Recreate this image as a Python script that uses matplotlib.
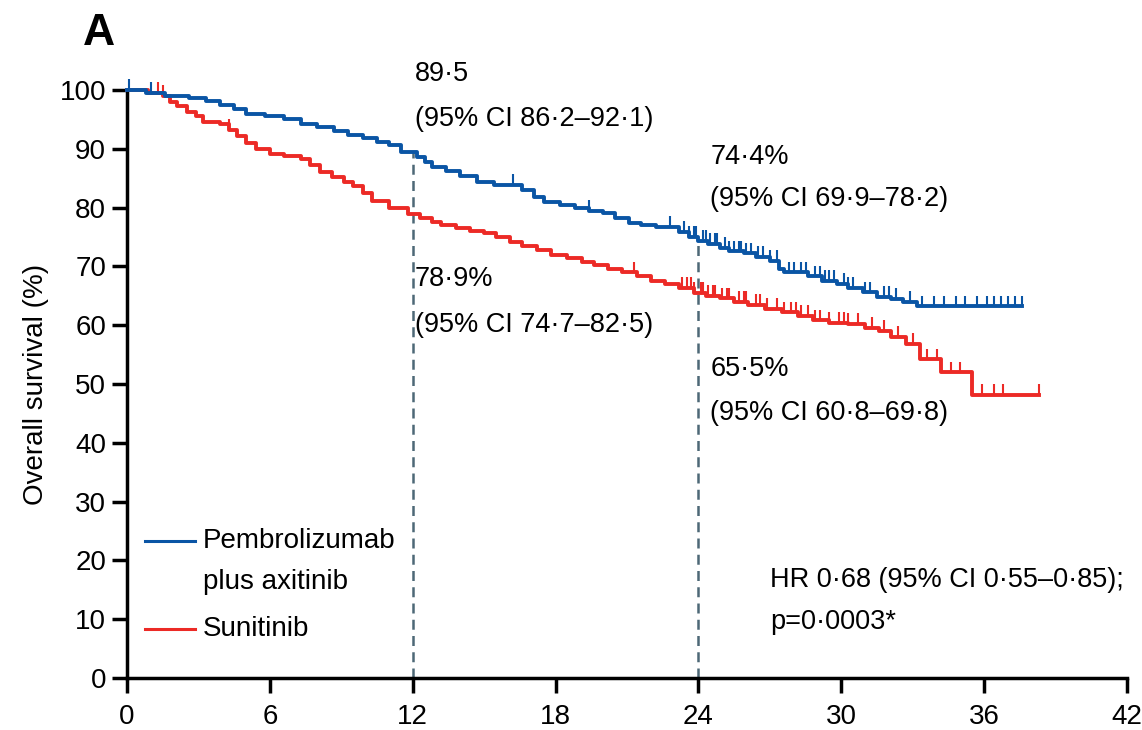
import numpy as np
import matplotlib
matplotlib.use("Agg")
import matplotlib.pyplot as plt

plt.rcParams["font.family"] = ["Liberation Sans", "DejaVu Sans"]

BLUE = "#0a55a5"
RED = "#ec2a26"
DASH = "#4d6876"

# pembrolizumab plus axitinib: step times (months) and survival (%) after each step
pa_time = [0, 0.8, 1.6, 2.6, 3.3, 3.9, 4.5, 5.0, 5.8, 6.6, 7.3, 8.0, 8.7, 9.3, 9.9,
           10.5, 11.0, 11.5, 12.2, 12.5, 12.8, 13.4, 14.0, 14.7, 15.4, 16.6, 17.1,
           17.5, 18.2, 18.8, 19.4, 20.0, 20.5, 21.1, 21.6, 22.2, 23.2, 23.6, 24.0,
           24.4, 24.9, 25.3, 25.9, 26.4, 27.0, 27.4, 27.6, 28.6, 29.2, 29.8, 30.3,
           30.9, 31.5, 32.1, 32.6, 33.2, 37.6]
pa_surv = [100, 99.5, 99.0, 98.7, 98.2, 97.5, 96.8, 96.0, 95.5, 95.0, 94.3, 93.7,
           93.0, 92.4, 91.8, 91.2, 90.6, 89.5, 88.6, 87.7, 86.9, 86.2, 85.4, 84.4,
           83.9, 83.0, 81.8, 80.9, 80.5, 80.0, 79.5, 79.0, 78.2, 77.4, 77.0, 76.7,
           75.9, 75.0, 74.4, 73.8, 73.2, 72.6, 72.2, 71.6, 71.0, 69.5, 69.0, 68.3,
           67.6, 67.0, 66.4, 65.6, 64.8, 64.5, 64.0, 63.2, 63.2]
pa_censor = [0.1, 1.0, 16.2, 19.4, 22.8, 23.4, 23.6, 23.8, 23.9, 24.2, 24.3, 24.5,
             24.7, 24.8, 25.1, 25.3, 25.5, 25.7, 25.8, 26.0, 26.2, 26.5, 26.7, 27.0,
             27.3, 27.8, 28.0, 28.3, 28.5, 28.9, 29.1, 29.3, 29.5, 29.7, 30.1, 30.3,
             30.5, 31.0, 31.2, 31.8, 32.0, 32.3, 32.9, 33.4, 33.9, 34.3, 34.8, 35.2,
             35.7, 36.1, 36.4, 36.7, 37.0, 37.3, 37.6]

# sunitinib
su_time = [0, 0.9, 1.5, 1.8, 2.1, 2.5, 2.9, 3.2, 3.9, 4.3, 4.6, 5.0, 5.4, 6.0, 6.6,
           7.3, 7.7, 8.1, 8.6, 9.1, 9.5, 9.9, 10.3, 11.0, 11.8, 12.3, 12.8, 13.2,
           13.8, 14.4, 15.0, 15.5, 16.1, 16.6, 17.2, 17.8, 18.5, 19.1, 19.6, 20.2,
           20.8, 21.4, 22.0, 22.6, 23.2, 23.8, 24.3, 24.9, 25.5, 26.1, 26.8, 27.5,
           28.2, 28.8, 29.5, 30.3, 31.0, 31.6, 32.1, 32.7, 33.3, 34.2, 35.5, 38.3]
su_surv = [100, 99.5, 99.0, 98.0, 97.2, 96.2, 95.5, 94.6, 94.2, 93.2, 92.2, 91.0,
           90.0, 89.2, 88.8, 88.2, 87.2, 86.0, 85.2, 84.4, 83.6, 82.5, 81.2, 80.0,
           78.9, 78.2, 77.6, 77.0, 76.5, 76.0, 75.6, 75.0, 74.2, 73.5, 72.8, 72.0,
           71.4, 70.8, 70.3, 69.6, 69.0, 68.3, 67.6, 67.0, 66.4, 65.5, 65.0, 64.6,
           64.0, 63.5, 62.8, 62.2, 61.6, 60.8, 60.4, 60.2, 59.6, 59.0, 58.0, 56.8,
           54.2, 52.0, 48.2, 48.2]
su_censor = [1.3, 1.5, 4.3, 21.3, 23.3, 23.5, 23.7, 23.8, 24.1, 24.2, 24.4, 24.6,
             24.7, 25.0, 25.2, 25.3, 25.7, 25.9, 26.0, 26.4, 26.6, 26.9, 27.3, 27.6,
             27.9, 28.1, 28.3, 28.6, 28.9, 29.1, 29.5, 29.9, 30.1, 30.3, 30.7, 31.3,
             31.8, 32.4, 33.0, 33.6, 34.0, 34.6, 35.0, 35.9, 36.4, 36.8, 38.3]

landmarks = [12, 24]
x_ticks = [0, 6, 12, 18, 24, 30, 36, 42]
y_ticks = list(range(0, 101, 10))


def step_value(times, surv, t):
    idx = np.searchsorted(times, t, side="right") - 1
    return np.asarray(surv)[idx]


fig = plt.figure(figsize=(11.42, 7.3), dpi=100)
ax = fig.add_axes([127 / 1142, 52 / 730, 1000 / 1142, 588 / 730])

for times, surv, cens, col in ((su_time, su_surv, su_censor, RED),
                               (pa_time, pa_surv, pa_censor, BLUE)):
    ax.step(times, surv, where="post", color=col, lw=2.8, clip_on=False, zorder=3)
    cy = step_value(times, surv, cens)
    ax.vlines(cens, cy, cy + 1.8, color=col, lw=1.5, clip_on=False, zorder=3)

# landmark guides up to the upper curve
for t in landmarks:
    ax.vlines(t, 0, step_value(pa_time, pa_surv, t), color=DASH, lw=1.8,
              linestyles=(0, (4, 2.5)), zorder=2)

fs = 19.5
ax.text(12.1, 102.7, "89·5", fontsize=fs, va="center", clip_on=False)
ax.text(12.1, 95.1, "(95% CI 86·2–92·1)", fontsize=fs, va="center", clip_on=False)
ax.text(24.5, 88.6, "74·4%", fontsize=fs, va="center")
ax.text(24.5, 81.4, "(95% CI 69·9–78·2)", fontsize=fs, va="center")
ax.text(12.1, 67.8, "78·9%", fontsize=fs, va="center")
ax.text(12.1, 60.1, "(95% CI 74·7–82·5)", fontsize=fs, va="center")
ax.text(24.5, 52.5, "65·5%", fontsize=fs, va="center")
ax.text(24.5, 45.1, "(95% CI 60·8–69·8)", fontsize=fs, va="center")
ax.text(27.0, 16.7, "HR 0·68 (95% CI 0·55–0·85);", fontsize=fs, va="center")
ax.text(27.0, 9.5, "p=0·0003*", fontsize=fs, va="center")

# legend
ax.plot([0.75, 2.85], [23.3, 23.3], color=BLUE, lw=2.2)
ax.plot([0.75, 2.85], [8.3, 8.3], color=RED, lw=2.2)
ax.text(3.2, 23.3, "Pembrolizumab", fontsize=20, va="center")
ax.text(3.2, 16.3, "plus axitinib", fontsize=20, va="center")
ax.text(3.2, 8.3, "Sunitinib", fontsize=20, va="center")

ax.set_xlim(0, 42)
ax.set_ylim(0, 100)
ax.set_xticks(x_ticks)
ax.set_yticks(y_ticks)
ax.tick_params(direction="out", length=11, width=2.5, labelsize=20, pad=4)
ax.tick_params(axis="x", pad=8)
for s in ("top", "right"):
    ax.spines[s].set_visible(False)
for s in ("left", "bottom"):
    ax.spines[s].set_linewidth(2.5)
ax.set_ylabel("Overall survival (%)", fontsize=20, labelpad=8)

fig.text(83 / 1142, 1 - 45 / 730, "A", fontsize=32, fontweight="bold")

fig.savefig("out.png", dpi=100)
